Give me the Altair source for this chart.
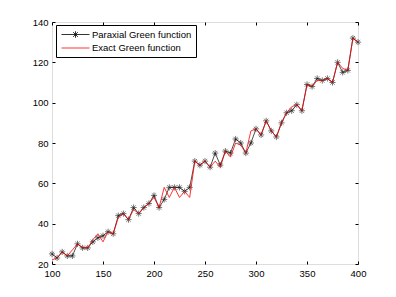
import altair as alt
import pandas as pd

x_vals = [100, 105, 110, 115, 120, 125, 130, 135, 140, 145, 150, 155, 160, 165, 170,
          175, 180, 185, 190, 195, 200, 205, 210, 215, 220, 225, 230, 235, 240, 245,
          250, 255, 260, 265, 270, 275, 280, 285, 290, 295, 300, 305, 310, 315, 320,
          325, 330, 335, 340, 345, 350, 355, 360, 365, 370, 375, 380, 385, 390, 395, 400]

paraxial = [25, 23, 26, 24, 24, 30, 28, 28, 31, 33, 34, 36, 35, 44, 45,
            42, 48, 45, 48, 50, 54, 48, 52, 58, 58, 58, 56, 58, 71, 69,
            71, 68, 75, 69, 76, 75, 82, 80, 75, 80, 87, 84, 91, 86, 83,
            90, 95, 96, 99, 96, 109, 108, 112, 111, 112, 110, 120, 115, 116, 132, 130]

exact = [22, 23, 26, 24, 27, 30, 28, 28, 32, 35, 31, 36, 35, 43, 45,
         42, 47, 45, 48, 50, 53, 48, 58, 53, 58, 53, 56, 53, 71, 69,
         71, 68, 71, 68, 76, 73, 80, 79, 75, 86, 87, 84, 91, 86, 83,
         90, 95, 98, 99, 96, 109, 108, 111, 111, 112, 110, 120, 117, 116, 132, 130]

series_names = ["Paraxial Green function", "Exact Green function"]
series_colors = ["#000000", "#ff0000"]
x_ticks = [100, 150, 200, 250, 300, 350, 400]
y_ticks = [20, 40, 60, 80, 100, 120, 140]

df = pd.concat([
    pd.DataFrame({"x": x_vals, "y": paraxial, "series": series_names[0]}),
    pd.DataFrame({"x": x_vals, "y": exact, "series": series_names[1]}),
], ignore_index=True)

FONT = "Liberation Sans"
ASTERISK = "M-1,0L1,0M0,-1L0,1M-0.7,-0.7L0.7,0.7M-0.7,0.7L0.7,-0.7"
LEG_PARAX = "M-3,0L3,0M0,-0.7L0,0.7M-0.5,-0.5L0.5,0.5M-0.5,0.5L0.5,-0.5"
LEG_EXACT = "M-3,0L3,0"

xs = alt.Scale(domain=[100, 400], nice=False, zero=False)
ys = alt.Scale(domain=[20, 140], nice=False, zero=False)

common_axis = dict(grid=False, domain=False, tickColor="black", tickSize=3, offset=-3,
                   labelFont=FONT, labelFontSize=9.5, labelColor="black", title=None,
                   labelFlush=False, labelOverlap=False)

ax_bottom = alt.Axis(orient="bottom", values=x_ticks, labelPadding=4, **common_axis)
ax_top = alt.Axis(orient="top", values=x_ticks, labels=False, **common_axis)
ax_left = alt.Axis(orient="left", values=y_ticks, labelPadding=4, **common_axis)
ax_right = alt.Axis(orient="right", values=y_ticks, labels=False, **common_axis)

base = alt.Chart(df)
parax_data = base.transform_filter(alt.datum.series == series_names[0])
exact_data = base.transform_filter(alt.datum.series == series_names[1])

black_line = parax_data.mark_line(strokeWidth=0.7, color=series_colors[0]).encode(
    x=alt.X("x:Q", scale=xs, axis=ax_bottom),
    y=alt.Y("y:Q", scale=ys, axis=ax_left),
)

stars = parax_data.mark_point(
    shape=ASTERISK, size=38, filled=False, strokeWidth=0.75, color=series_colors[0]
).encode(
    x=alt.X("x:Q", scale=xs, axis=None),
    y=alt.Y("y:Q", scale=ys, axis=None),
)

red_line = exact_data.mark_line(strokeWidth=0.8, color=series_colors[1]).encode(
    x=alt.X("x:Q", scale=xs, axis=ax_top),
    y=alt.Y("y:Q", scale=ys, axis=ax_right),
)

leg = dict(orient="none", legendX=4, legendY=3, strokeColor="black",
           fillColor="white", padding=4, rowPadding=2.5, labelFont=FONT, labelFontSize=9.5,
           labelColor="black", symbolSize=87, symbolStrokeWidth=0.8, symbolOffset=10,
           labelOffset=11, labelLimit=300, symbolOpacity=1,
           labelExpr="datum.label + '   '")

legend_layer = base.mark_point(filled=False, opacity=0).encode(
    x=alt.X("x:Q", scale=xs, axis=None),
    y=alt.Y("y:Q", scale=ys, axis=None),
    color=alt.Color("series:N", scale=alt.Scale(domain=series_names, range=series_colors),
                    legend=alt.Legend(title=None, **leg)),
    shape=alt.Shape("series:N", scale=alt.Scale(domain=series_names, range=[LEG_PARAX, LEG_EXACT]),
                    legend=alt.Legend(title=None, **leg)),
)

chart = alt.layer(black_line, stars, red_line, legend_layer).properties(
    width=306, height=242,
    autosize=alt.AutoSizeParams(type="none"),
    padding={"left": 44, "top": 14, "right": 30, "bottom": 25},
).configure_view(stroke="black", strokeWidth=1).configure(background="white")

chart.save("out.html", embed_options={"renderer": "svg", "actions": False})
